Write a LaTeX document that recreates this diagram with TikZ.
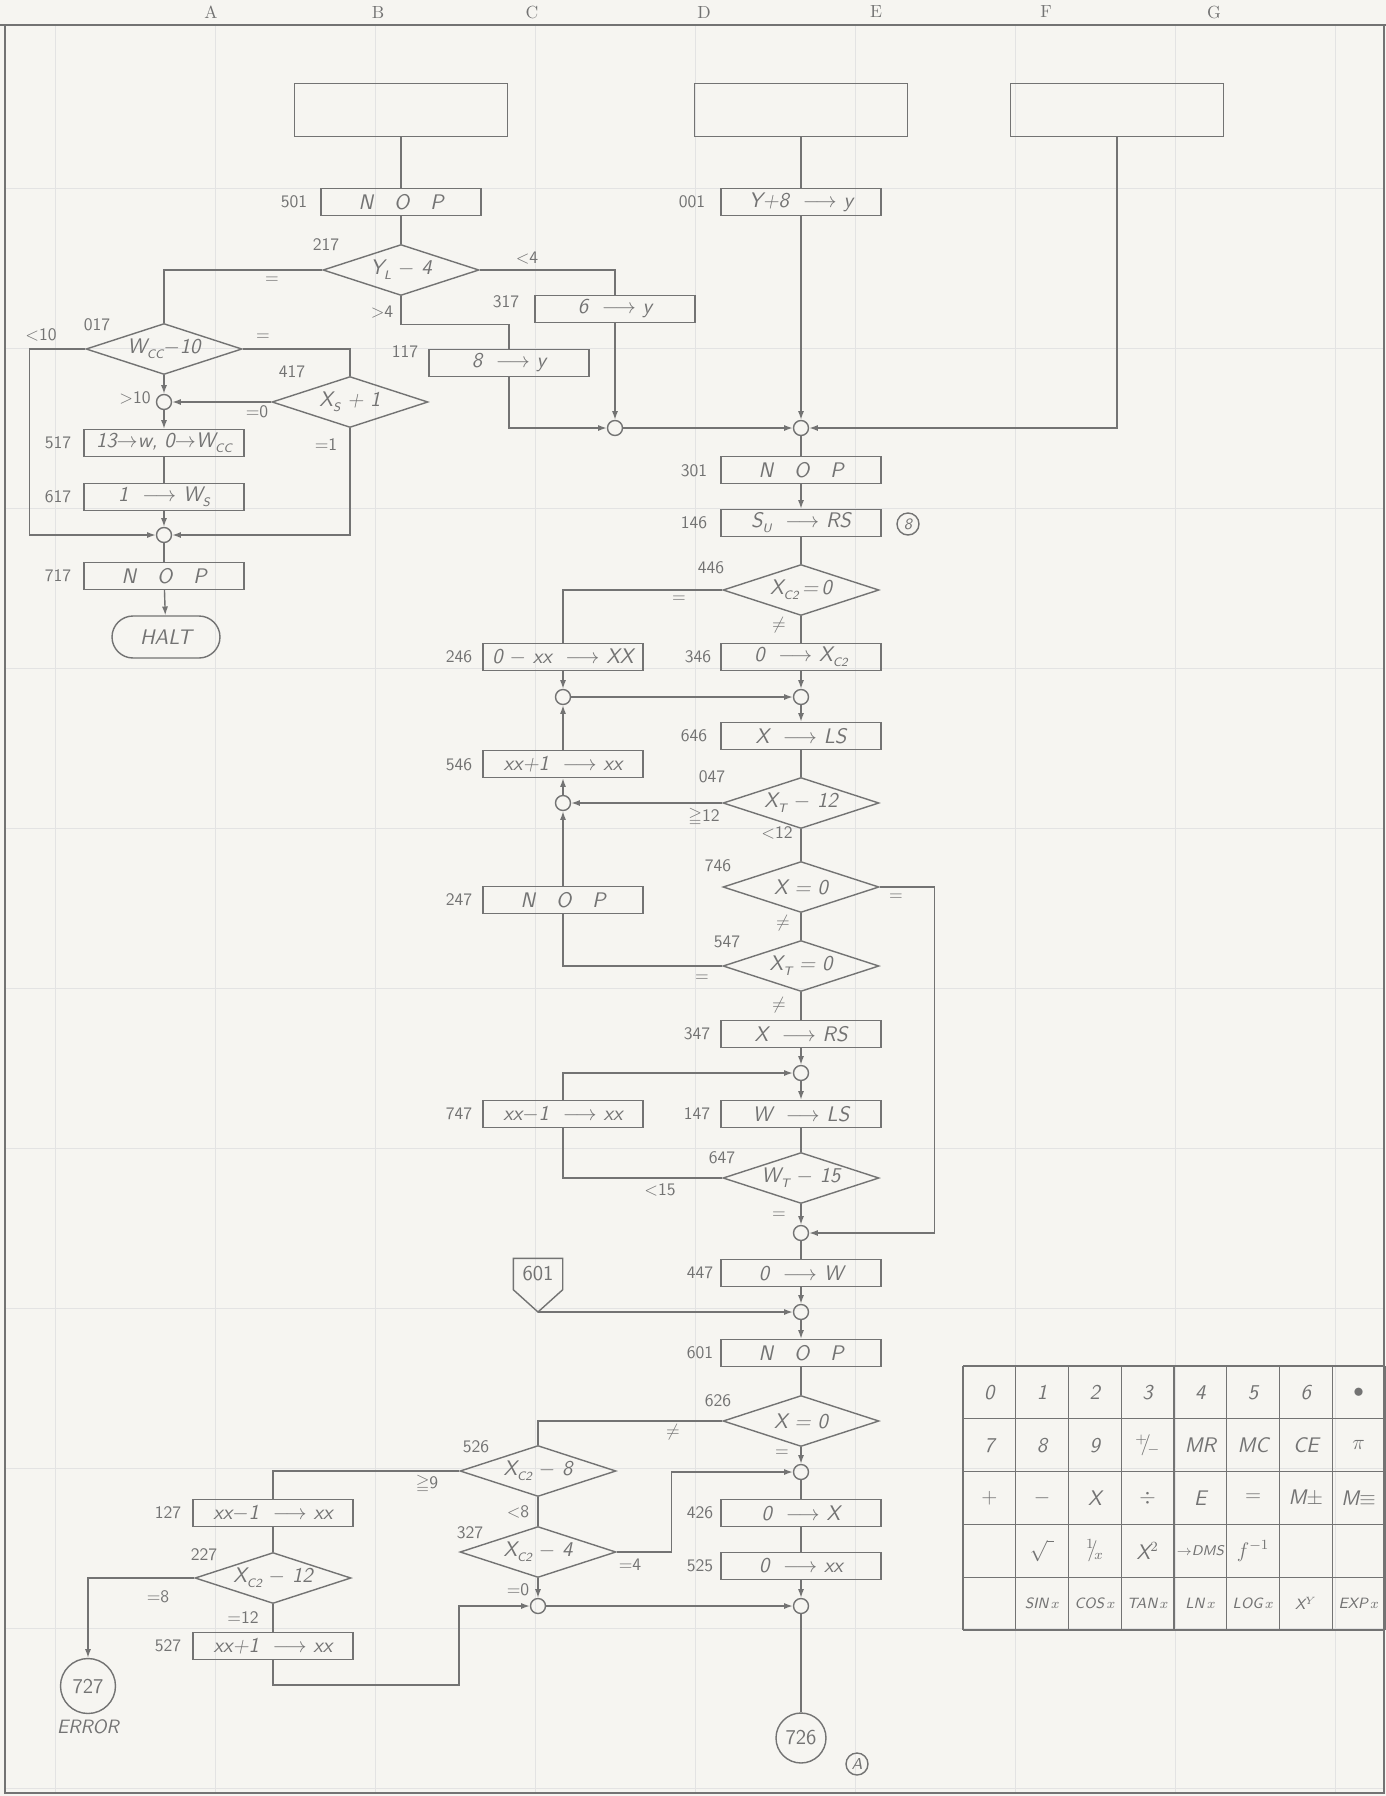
\documentclass[tikz,border=0pt]{standalone}
\usepackage{amsmath,amssymb}
\usepackage{tikz}
\usetikzlibrary{
	arrows.meta,
	shapes.geometric
}
\definecolor{ink}{gray}{0.45}
\definecolor{paper}{RGB}{246,245,241}
\definecolor{gridline}{gray}{0.89}
\newcommand{\lowsub}[1]{\raisebox{-0.55ex}{\scriptsize #1}}
\newcommand{\sendto}{\ $\longrightarrow$\ }

\begin{document}
\begin{tikzpicture}[
		x=0.02cm, y=-0.02cm, color=ink, line width=0.8pt,
		opbox/.style={draw, rectangle, minimum width=3.2cm, minimum height=0.54cm, inner sep=1pt, font=\fontsize{12}{14}\selectfont\sffamily\slshape},
		decide/.style={draw, diamond, aspect=3, minimum width=3.12cm, minimum height=1.02cm, inner sep=0pt, font=\fontsize{12}{14}\selectfont\sffamily\slshape},
		emptybox/.style={draw, rectangle, minimum width=4.26cm, minimum height=1.06cm},
		haltbox/.style={draw, rectangle, rounded corners=0.42cm, minimum width=2.16cm, minimum height=0.84cm, font=\fontsize{12}{14}\selectfont\sffamily\slshape},
		merge/.style={draw, circle, minimum size=0.3cm, inner sep=0pt},
		stepno/.style={font=\fontsize{10}{12}\selectfont\sffamily},
		branch/.style={font=\fontsize{10}{12}\selectfont\sffamily},
		endcircle/.style={draw, circle, minimum size=1.0cm, inner sep=0pt, font=\fontsize{12}{14}\selectfont\sffamily},
		circtag/.style={draw, circle, minimum size=0.44cm, inner sep=0pt, font=\fontsize{9}{10}\selectfont\sffamily\slshape},
		keytext/.style={font=\fontsize{12}{14}\selectfont\sffamily\slshape},
		arrow/.style={-{Latex[length=5pt,width=3.5pt]}}
	]
	
	% --- paper, frame and column letters ---
	\useasboundingbox (0,0) rectangle (1386,1796);
	\fill[paper] (0,0) rectangle (1386,1796);
	\foreach \gx in {55,215,...,1335}
		\draw[gridline, line width=0.4pt] (\gx,25) -- (\gx,1793);
	\foreach \gy in {188,348,...,1788}
		\draw[gridline, line width=0.4pt] (5,\gy) -- (1384,\gy);
	\draw (0,25) -- (1386,25);
	\draw (5,25) rectangle (1384,1793);
	\foreach \col/\cx in {A/211,B/378,C/532,D/704,E/876,F/1046,G/1214}
		\node[font=\fontsize{10}{12}\selectfont] (col\col) at (\cx,12) {\col};
	
	% --- top boxes ---
	\node[emptybox] (top1) at (401,110) {};
	\node[emptybox] (top2) at (801,110) {};
	\node[emptybox] (top3) at (1117,110) {};
	
	% --- column B ---
	\node[opbox] (nop501) at (401,202) {N\quad O\quad P};
	\node[decide] (d217) at (401,270) {Y\lowsub{L} $-$ 4};
	\node[opbox] (b317) at (615,309) {6 \sendto y};
	\node[opbox] (b117) at (509,363) {8 \sendto y};
	\node[merge] (j1) at (615,428) {};
	
	% --- column A ---
	\node[decide] (d017) at (164,349) {W\lowsub{CC}$-$10};
	\node[decide] (d417) at (350,402) {X\lowsub{S} + 1};
	\node[merge] (j12) at (164,402) {};
	\node[opbox] (b517) at (164,443) {13$\rightarrow$w, 0$\rightarrow$W\lowsub{CC}};
	\node[opbox] (b617) at (164,497) {1 \sendto W\lowsub{S}};
	\node[merge] (j13) at (164,535) {};
	\node[opbox] (nop717) at (164,576) {N\quad O\quad P};
	\node[haltbox] (halt) at (166,637) {HALT};
	
	% --- main column ---
	\node[opbox] (b001) at (801,202) {Y+8 \sendto y};
	\node[merge] (j2) at (801,428) {};
	\node[opbox] (nop301) at (801,470) {N\quad O\quad P};
	\node[opbox] (b146) at (801,523) {S\lowsub{U} \sendto RS};
	\node[circtag] (tag8) at (908,524) {8};
	\node[decide] (d446) at (801,590) {X\lowsub{C2}\,=\,0};
	\node[opbox] (b346) at (801,657) {0 \sendto X\lowsub{C2}};
	\node[merge] (j4) at (801,697) {};
	\node[opbox] (b646) at (801,736) {X \sendto LS};
	\node[decide] (d047) at (801,803) {X\lowsub{T} $-$ 12};
	\node[decide] (d746) at (801,887) {X = 0};
	\node[decide] (d547) at (801,966) {X\lowsub{T} = 0};
	\node[opbox] (b347) at (801,1034) {X \sendto RS};
	\node[merge] (j6) at (801,1073) {};
	\node[opbox] (b147) at (801,1114) {W \sendto LS};
	\node[decide] (d647) at (801,1178) {W\lowsub{T} $-$ 15};
	\node[merge] (j7) at (801,1233) {};
	\node[opbox] (b447) at (801,1273) {0 \sendto W};
	\node[merge] (j8) at (801,1312) {};
	\node[opbox] (nop601) at (801,1353) {N\quad O\quad P};
	\node[decide] (d626) at (801,1421) {X = 0};
	\node[merge] (j9) at (801,1472) {};
	\node[opbox] (b426) at (801,1513) {0 \sendto X};
	\node[opbox] (b525) at (801,1566) {0 \sendto xx};
	\node[merge] (j11) at (801,1606) {};
	\node[endcircle] (end726) at (801,1738) {726};
	\node[circtag] (tagA) at (857,1764) {A};
	
	% --- column C ---
	\node[opbox] (b246) at (563,657) {0 $-$ xx \sendto XX};
	\node[merge] (j3) at (563,697) {};
	\node[opbox] (b546) at (563,764) {xx+1 \sendto xx};
	\node[merge] (j5) at (563,803) {};
	\node[opbox] (nop247) at (563,900) {N\quad O\quad P};
	\node[opbox] (b747) at (563,1114) {xx$-$1 \sendto xx};
	\node[inner sep=0pt, minimum width=0.96cm, minimum height=0.6cm, font=\fontsize{12}{14}\selectfont\sffamily] (off601) at (538,1274) {601};
	\coordinate (off601tip) at (538,1312);
	\draw (off601.south west) -- (off601.north west) -- (off601.north east) -- (off601.south east) -- (off601tip) -- cycle;
	\node[decide] (d526) at (538,1471) {X\lowsub{C2} $-$ 8};
	\node[decide] (d327) at (538,1552) {X\lowsub{C2} $-$ 4};
	\node[merge] (j10) at (538,1606) {};
	
	% --- bottom left ---
	\node[opbox] (b127) at (273,1513) {xx$-$1 \sendto xx};
	\node[decide] (d227) at (273,1578) {X\lowsub{C2} $-$ 12};
	\node[opbox] (b527) at (273,1646) {xx+1 \sendto xx};
	\coordinate (k527) at (459,1685);
	\node[endcircle, minimum size=1.1cm] (err727) at (88,1686) {727};
	\node[branch, font=\fontsize{11}{13}\selectfont\sffamily\slshape] (errtxt) at (88,1727) {ERROR};
	
	% --- step numbers ---
	\node[stepno] (n501) at (294,202) {501};
	\node[stepno] (n217) at (326,245) {217};
	\node[stepno] (n317) at (506,302) {317};
	\node[stepno] (n117) at (405,352) {117};
	\node[stepno] (n017) at (97,325) {017};
	\node[stepno] (n417) at (292,372) {417};
	\node[stepno] (n517) at (58,443) {517};
	\node[stepno] (n617) at (58,497) {617};
	\node[stepno] (n717) at (58,576) {717};
	\node[stepno] (n001) at (692,202) {001};
	\node[stepno] (n301) at (694,471) {301};
	\node[stepno] (n146) at (694,523) {146};
	\node[stepno] (n446) at (711,568) {446};
	\node[stepno] (n246) at (459,657) {246};
	\node[stepno] (n346) at (698,657) {346};
	\node[stepno] (n646) at (694,736) {646};
	\node[stepno] (n546) at (459,765) {546};
	\node[stepno] (n047) at (712,777) {047};
	\node[stepno] (n746) at (718,866) {746};
	\node[stepno] (n247) at (459,900) {247};
	\node[stepno] (n547) at (727,942) {547};
	\node[stepno] (n347) at (697,1034) {347};
	\node[stepno] (n747) at (459,1114) {747};
	\node[stepno] (n147) at (697,1114) {147};
	\node[stepno] (n647) at (722,1158) {647};
	\node[stepno] (n447) at (700,1273) {447};
	\node[stepno] (n601) at (700,1353) {601};
	\node[stepno] (n626) at (718,1401) {626};
	\node[stepno] (n526) at (476,1447) {526};
	\node[stepno] (n327) at (470,1533) {327};
	\node[stepno] (n426) at (700,1513) {426};
	\node[stepno] (n525) at (700,1566) {525};
	\node[stepno] (n127) at (168,1513) {127};
	\node[stepno] (n227) at (204,1555) {227};
	\node[stepno] (n527) at (168,1646) {527};
	
	% --- branch conditions ---
	\node[branch] (c217eq) at (272,280) {$=$};
	\node[branch] (c217lt) at (527,258) {$<$4};
	\node[branch] (c217gt) at (382,312) {$>$4};
	\node[branch] (c017lt) at (41,335) {$<$10};
	\node[branch] (c017eq) at (263,337) {$=$};
	\node[branch] (c017gt) at (135,398) {$>$10};
	\node[branch] (c417z) at (257,412) {$=$0};
	\node[branch] (c417o) at (326,445) {$=$1};
	\node[branch] (c446eq) at (679,599) {$=$};
	\node[branch] (c446ne) at (779,625) {$\neq$};
	\node[branch] (c047ge) at (704,817) {$\geqq$12};
	\node[branch] (c047lt) at (777,833) {$<$12};
	\node[branch] (c746eq) at (896,897) {$=$};
	\node[branch] (c746ne) at (783,923) {$\neq$};
	\node[branch] (c547eq) at (702,978) {$=$};
	\node[branch] (c547ne) at (779,1005) {$\neq$};
	\node[branch] (c647lt) at (660,1190) {$<$15};
	\node[branch] (c647eq) at (779,1215) {$=$};
	\node[branch] (c626ne) at (673,1432) {$\neq$};
	\node[branch] (c626eq) at (782,1453) {$=$};
	\node[branch] (c526ge) at (427,1484) {$\geqq$9};
	\node[branch] (c526lt) at (518,1512) {$<$8};
	\node[branch] (c327eq4) at (630,1565) {$=$4};
	\node[branch] (c327eq0) at (518,1590) {$=$0};
	\node[branch] (c227eq8) at (158,1597) {$=$8};
	\node[branch] (c227eq12) at (243,1618) {$=$12};
	
	% --- connectors, upper part ---
	\draw (top1) -- (nop501);
	\draw (nop501) -- (d217);
	\draw (d217.west) -| (d017.north);
	\draw (d217.east) -| (b317.north);
	\draw (d217.south) -- ++(0,28) -| (b117.north);
	\draw[arrow] (b317) -- (j1);
	\draw[arrow] (b117.south) |- (j1.west);
	\draw[arrow] (j1) -- (j2);
	\draw (top2) -- (b001);
	\draw[arrow] (b001) -- (j2);
	\draw[arrow] (top3.south) |- (j2.east);
	
	\draw[arrow] (d017.west) -- ++(-56,0) |- (j13.west);
	\draw (d017.east) -| (d417.north);
	\draw[arrow] (d017) -- (j12);
	\draw[arrow] (d417.west) -- (j12);
	\draw[arrow] (d417.south) |- (j13.east);
	\draw[arrow] (j12) -- (b517);
	\draw (b517) -- (b617);
	\draw[arrow] (b617) -- (j13);
	\draw (j13) -- (nop717);
	\draw[arrow] (nop717) -- (halt);
	
	% --- connectors, main loop ---
	\draw (j2) -- (nop301);
	\draw[arrow] (nop301) -- (b146);
	\draw (b146) -- (d446);
	\draw (d446.west) -| (b246.north);
	\draw (d446) -- (b346);
	\draw[arrow] (b346) -- (j4);
	\draw[arrow] (b246) -- (j3);
	\draw[arrow] (j3) -- (j4);
	\draw[arrow] (b546) -- (j3);
	\draw[arrow] (j4) -- (b646);
	\draw (b646) -- (d047);
	\draw[arrow] (d047.west) -- (j5);
	\draw[arrow] (j5) -- (b546);
	\draw (d047) -- (d746);
	\draw[arrow] (d746.east) -- ++(55,0) |- (j7.east);
	\draw (d746) -- (d547);
	\draw (d547.west) -| (nop247.south);
	\draw[arrow] (nop247) -- (j5);
	\draw (d547) -- (b347);
	\draw[arrow] (b347) -- (j6);
	\draw[arrow] (j6) -- (b147);
	\draw (b147) -- (d647);
	\draw (d647.west) -| (b747.south);
	\draw[arrow] (b747.north) |- (j6.west);
	\draw[arrow] (d647) -- (j7);
	\draw (j7) -- (b447);
	\draw[arrow] (b447) -- (j8);
	\draw[arrow] (off601tip) -- (j8);
	\draw[arrow] (j8) -- (nop601);
	\draw (nop601) -- (d626);
	
	% --- connectors, lower part ---
	\draw (d626.west) -| (d526.north);
	\draw[arrow] (d626) -- (j9);
	\draw (d526.west) -| (b127.north);
	\draw (d526) -- (d327);
	\draw[arrow] (d327.east) -- ++(55,0) |- (j9.west);
	\draw[arrow] (d327) -- (j10);
	\draw (j9) -- (b426);
	\draw (b426) -- (b525);
	\draw[arrow] (b525) -- (j11);
	\draw[arrow] (j10) -- (j11);
	\draw (j11) -- (end726);
	\draw (b127) -- (d227);
	\draw[arrow] (d227.west) -| (err727.north);
	\draw (d227) -- (b527);
	\draw[arrow] (b527.south) |- (k527) |- (j10.west);
	
	% --- key table ---
	\foreach \i in {0,...,8}
		\draw[line width=0.6pt] ({963+52.75*\i},1366) -- ({963+52.75*\i},1630);
	\foreach \j in {0,...,5}
		\draw[line width=0.6pt] (963,{1366+52.8*\j}) -- (1385,{1366+52.8*\j});
	\foreach \k [count=\c] in {0,1,2,3,4,5,6,{$\bullet$}}
		\node[keytext] (ka\c) at ({963+52.75*(\c-0.5)},1392.4) {\k};
	\foreach \k [count=\c] in {7,8,9,{${}^{+}\!\!/\!{}_{-}$},MR,MC,CE,{$\pi$}}
		\node[keytext] (kb\c) at ({963+52.75*(\c-0.5)},1445.2) {\k};
	\foreach \k [count=\c] in {{$+$},{$-$},X,{$\div$},E,{$=$},{M$\pm$},{M$\equiv$}}
		\node[keytext] (kc\c) at ({963+52.75*(\c-0.5)},1498) {\k};
	\foreach \k [count=\c] in {{},{$\sqrt{\ }$},{${}^{1}\!\!/\!{}_{x}$},{X$^{2}$},{\fontsize{8}{9}\selectfont$\rightarrow$DMS},{$f^{-1}$},{},{}}
		\node[keytext] (kd\c) at ({963+52.75*(\c-0.5)},1550.8) {\k};
	\foreach \k [count=\c] in {{},{SIN\,$x$},{COS\,$x$},{TAN\,$x$},{LN\,$x$},{LOG\,$x$},{X$^{Y}$},{EXP\,$x$}}
		\node[keytext, font=\fontsize{8.5}{10}\selectfont\sffamily\slshape] (ke\c) at ({963+52.75*(\c-0.5)},1603.6) {\k};
	
\end{tikzpicture}
\end{document}
